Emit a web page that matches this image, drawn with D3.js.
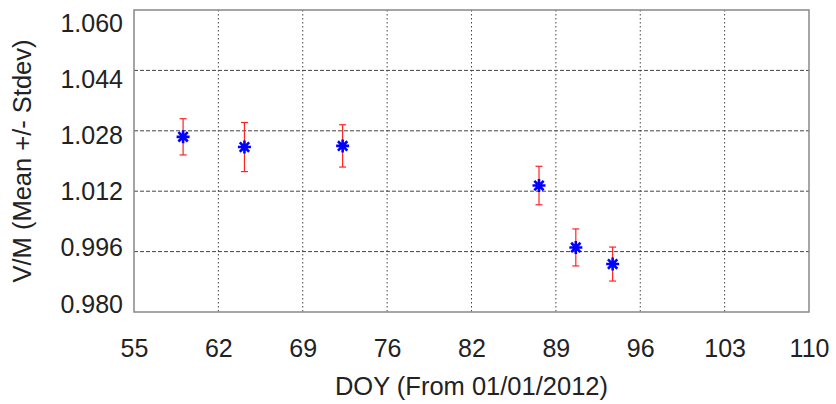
<!DOCTYPE html>
<html>
<head>
<meta charset="utf-8">
<script src="https://cdn.jsdelivr.net/npm/d3@7"></script>
<style>
  html, body { margin: 0; padding: 0; background: #fff; }
  svg { display: block; }
  text { font-family: "Liberation Sans", Arial, Helvetica, sans-serif; fill: #222; }
</style>
</head>
<body>
<svg id="chart" width="836" height="404"></svg>
<script>
// ---- data ----
const doy = [59, 64, 72, 88, 91, 94];
const meanVM = [1.0264, 1.0237, 1.0240, 1.0135, 0.9971, 0.9927];
const stdevVM = [0.0048, 0.0065, 0.0056, 0.0051, 0.0049, 0.0045];
const xTickLabels = ["55", "62", "69", "76", "82", "89", "96", "103", "110"];
const yTickValues = [0.980, 0.996, 1.012, 1.028, 1.044, 1.060];
const xTitle = "DOY (From 01/01/2012)";
const yTitle = "V/M (Mean +/- Stdev)";

// ---- layout ----
const svg = d3.select("#chart");
const L = 134, R = 809, T = 10, B = 312;
const xMin = 55, xMax = 110;
const x = d3.scaleLinear().domain([xMin, xMax]).range([L, R]);
const y = d3.scaleLinear().domain([0.980, 1.060]).range([B, T]);
const xTickValues = xTickLabels.map((_, i) => xMin + i * (xMax - xMin) / (xTickLabels.length - 1));

// grid - horizontal dashed
svg.append("g")
  .selectAll("line")
  .data(yTickValues.slice(1, -1))
  .join("line")
  .attr("x1", L).attr("x2", R)
  .attr("y1", d => y(d)).attr("y2", d => y(d))
  .attr("stroke", "#444").attr("stroke-width", 1)
  .attr("stroke-dasharray", "4,2");

// grid - vertical dotted
svg.append("g")
  .selectAll("line")
  .data(xTickValues.slice(1, -1))
  .join("line")
  .attr("x1", d => x(d)).attr("x2", d => x(d))
  .attr("y1", T).attr("y2", B)
  .attr("stroke", "#444").attr("stroke-width", 1)
  .attr("stroke-dasharray", "1.5,2.5");

// frame
svg.append("rect")
  .attr("x", L).attr("y", T).attr("width", R - L).attr("height", B - T)
  .attr("fill", "none").attr("stroke", "#888").attr("stroke-width", 1.5);

// axes (labels only)
const xAxis = d3.axisBottom(x)
  .tickValues(xTickValues)
  .tickFormat((d, i) => xTickLabels[i])
  .tickSize(0).tickPadding(27);
const gx = svg.append("g").attr("transform", `translate(0,${B})`).call(xAxis);
gx.select(".domain").remove();
gx.selectAll("text").style("font-size", "25px").attr("fill", "#222")
  .attr("font-family", "Liberation Sans, Arial, sans-serif");

const yLab = d3.scaleLinear().domain([0.980, 1.060]).range([B - 8, T + 13]);
const yAxis = d3.axisLeft(yLab)
  .tickValues(yTickValues)
  .tickFormat(d3.format(".3f"))
  .tickSize(0).tickPadding(11);
const gy = svg.append("g").attr("transform", `translate(${L},0)`).call(yAxis);
gy.select(".domain").remove();
gy.selectAll("text").style("font-size", "25px").attr("fill", "#222")
  .attr("font-family", "Liberation Sans, Arial, sans-serif");

// titles
svg.append("text")
  .attr("x", (L + R) / 2).attr("y", 395)
  .attr("text-anchor", "middle")
  .style("font-size", "25.5px")
  .text(xTitle);

svg.append("text")
  .attr("transform", `translate(31,${(T + B) / 2}) rotate(-90)`)
  .attr("text-anchor", "middle")
  .style("font-size", "25.5px")
  .text(yTitle);

// error bars
const pts = doy.map((d, i) => ({ d, m: meanVM[i], s: stdevVM[i] }));
const eb = svg.append("g").attr("stroke", "#f22").attr("stroke-width", 1.2).attr("fill", "none");
eb.selectAll("line.v").data(pts).join("line").attr("class", "v")
  .attr("x1", p => x(p.d)).attr("x2", p => x(p.d))
  .attr("y1", p => y(p.m - p.s)).attr("y2", p => y(p.m + p.s));
eb.selectAll("line.t").data(pts).join("line").attr("class", "t")
  .attr("x1", p => x(p.d) - 3.5).attr("x2", p => x(p.d) + 3.5)
  .attr("y1", p => y(p.m + p.s)).attr("y2", p => y(p.m + p.s));
eb.selectAll("line.b").data(pts).join("line").attr("class", "b")
  .attr("x1", p => x(p.d) - 3.5).attr("x2", p => x(p.d) + 3.5)
  .attr("y1", p => y(p.m - p.s)).attr("y2", p => y(p.m - p.s));

// markers: asterisk
const mk = svg.append("g").attr("stroke", "#0000ff").attr("stroke-width", 2.6).attr("fill", "none");
const r = 6.5;
mk.selectAll("path").data(pts).join("path")
  .attr("d", p => {
    const cx = x(p.d), cy = y(p.m), k = r * 0.72;
    return `M${cx - r},${cy}H${cx + r}M${cx},${cy - r}V${cy + r}` +
      `M${cx - k},${cy - k}L${cx + k},${cy + k}M${cx - k},${cy + k}L${cx + k},${cy - k}`;
  });
</script>
</body>
</html>
